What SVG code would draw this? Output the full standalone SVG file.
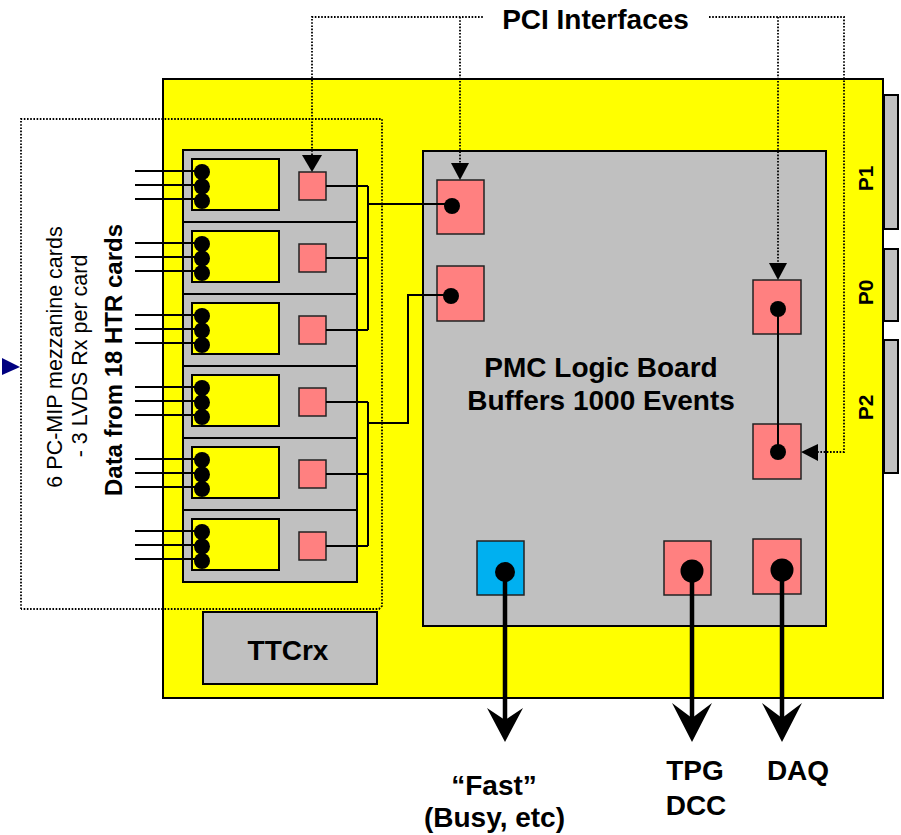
<svg xmlns="http://www.w3.org/2000/svg" width="901" height="835" viewBox="0 0 901 835">
<style>
.board{fill:#FFFF00;stroke:#000;stroke-width:2}
.grey{fill:#C0C0C0;stroke:#000;stroke-width:2}
.pink{fill:#FF8080;stroke:#222;stroke-width:1.5}
.blue{fill:#00B0F0;stroke:#222;stroke-width:1.5}
.dot{fill:#000}
.wire{fill:none;stroke:#000;stroke-width:2}
.dotted{fill:none;stroke:#000;stroke-width:1.8;stroke-dasharray:1.6 1.6}
.thick{fill:none;stroke:#000;stroke-width:4.5}
.head{fill:#000}
.b{font-family:"Liberation Sans",Arial,sans-serif;font-weight:bold;fill:#000}
.n{font-family:"Liberation Sans",Arial,sans-serif;fill:#000}
</style>
<defs>
<g id="card">
<rect class="grey" x="183" y="0" width="174" height="72"/>
<rect x="192" y="9" width="87" height="51" fill="#FFFF00" stroke="#000" stroke-width="2"/>
<line x1="135" y1="21" x2="202" y2="21" stroke="#000" stroke-width="2"/>
<line x1="135" y1="35" x2="202" y2="35" stroke="#000" stroke-width="2"/>
<line x1="135" y1="49" x2="202" y2="49" stroke="#000" stroke-width="2"/>
<circle class="dot" cx="202" cy="22" r="8"/>
<circle class="dot" cx="202" cy="36.5" r="8"/>
<circle class="dot" cx="202" cy="51" r="8"/>
<rect class="pink" x="299" y="22" width="27" height="28"/>
</g>
</defs>

<g id="board">
<rect class="board" x="163" y="79" width="720" height="619"/>
</g>
<g id="P1"><rect class="grey" x="884" y="95" width="14" height="134"/><text class="b" font-size="21" transform="translate(873,178.5) rotate(-90)" text-anchor="middle">P1</text></g>
<g id="P0"><rect class="grey" x="884" y="249" width="14" height="72"/><text class="b" font-size="21" transform="translate(873,292.5) rotate(-90)" text-anchor="middle">P0</text></g>
<g id="P2"><rect class="grey" x="884" y="340" width="14" height="133"/><text class="b" font-size="21" transform="translate(873,407.5) rotate(-90)" text-anchor="middle">P2</text></g>

<g id="pmc">
<rect class="grey" x="423" y="151" width="403" height="475"/>
<text class="b" font-size="28" x="601" y="377" text-anchor="middle">PMC Logic Board</text>
<text class="b" font-size="28" x="601" y="410" text-anchor="middle">Buffers 1000 Events</text>
</g>

<g id="ttcrx">
<rect class="grey" x="203" y="612" width="174" height="72"/>
<text class="b" font-size="28" x="288" y="660" text-anchor="middle">TTCrx</text>
</g>

<g id="mezzanine">
<use href="#card" y="150"/>
<use href="#card" y="222"/>
<use href="#card" y="294"/>
<use href="#card" y="366"/>
<use href="#card" y="438"/>
<use href="#card" y="510"/>
</g>

<g id="label-mezz">
<text class="n" font-size="21.5" transform="translate(62,357) rotate(-90)" text-anchor="middle">6 PC-MIP mezzanine cards</text>
<text class="n" font-size="21.5" transform="translate(87,356) rotate(-90)" text-anchor="middle">- 3 LVDS Rx per card</text>
<text class="b" font-size="24" transform="translate(122,360) rotate(-90)" text-anchor="middle">Data from 18 HTR cards</text>
</g>

<g id="pci-label">
<text class="b" font-size="28" x="595.5" y="29" text-anchor="middle">PCI Interfaces</text>
</g>

<g id="pmc-ports">
<rect class="pink" x="437" y="180" width="47" height="54"/>
<rect class="pink" x="437" y="266" width="47" height="55"/>
<rect class="pink" x="753" y="280" width="48" height="54"/>
<rect class="pink" x="753" y="424" width="48" height="55"/>
<rect class="blue" x="477" y="541" width="47" height="54"/>
<rect class="pink" x="664" y="541" width="47" height="54"/>
<rect class="pink" x="753" y="539" width="48" height="55"/>
</g>

<g id="connectors">
<polyline class="dotted" points="21,609 21,119 382,119 382,606 379,609 21,609"/>
<polyline class="dotted" points="312,155 312,17 483,17"/>
<line class="dotted" x1="460" y1="17" x2="460" y2="163"/>
<polyline class="dotted" points="709,17 844,17 844,452 818,452"/>
<line class="dotted" x1="778" y1="17" x2="778" y2="263"/>
<polygon class="head" points="302,155 322,155 312,172"/>
<polygon class="head" points="451,163 469,163 460,180"/>
<polygon class="head" points="769,263 787,263 778,280"/>
<polygon class="head" points="818,444 818,461 801,452"/>
<polygon fill="#000080" points="2,358 20,367 2,375"/>

<polyline class="wire" points="326,186 368,186"/>
<polyline class="wire" points="326,258 368,258"/>
<polyline class="wire" points="326,330 368,330"/>
<polyline class="wire" points="368,186 368,330"/>
<polyline class="wire" points="368,204 452,204"/>
<polyline class="wire" points="326,402 368,402"/>
<polyline class="wire" points="326,474 368,474"/>
<polyline class="wire" points="326,546 368,546"/>
<polyline class="wire" points="368,402 368,546"/>
<polyline class="wire" points="368,423 408,423 408,295 451,295"/>
<line class="wire" x1="778" y1="309" x2="778" y2="452"/>
<circle class="dot" cx="452" cy="206" r="8"/>
<circle class="dot" cx="451" cy="296" r="8"/>
<circle class="dot" cx="778" cy="309" r="8"/>
<circle class="dot" cx="778" cy="452" r="8"/>

<line class="thick" x1="505" y1="572" x2="505" y2="725"/>
<line class="thick" x1="692" y1="571" x2="692" y2="725"/>
<line class="thick" x1="782" y1="570" x2="782" y2="725"/>
<circle class="dot" cx="505" cy="572" r="10"/>
<circle class="dot" cx="692" cy="571" r="11.5"/>
<circle class="dot" cx="782" cy="570" r="11.5"/>
<polygon class="head" points="505,742 487,708 505,720 523,708"/>
<polygon class="head" points="692,742 672,703 692,718 712,703"/>
<polygon class="head" points="782,742 762,703 782,718 802,703"/>
</g>

<g id="out-labels">
<text class="b" font-size="28" x="494" y="795" text-anchor="middle">“Fast”</text>
<text class="b" font-size="28" x="494.5" y="827" text-anchor="middle">(Busy, etc)</text>
<text class="b" font-size="28" x="695" y="780" text-anchor="middle">TPG</text>
<text class="b" font-size="28" x="696" y="815" text-anchor="middle">DCC</text>
<text class="b" font-size="28" x="798" y="780" text-anchor="middle">DAQ</text>
</g>
</svg>
